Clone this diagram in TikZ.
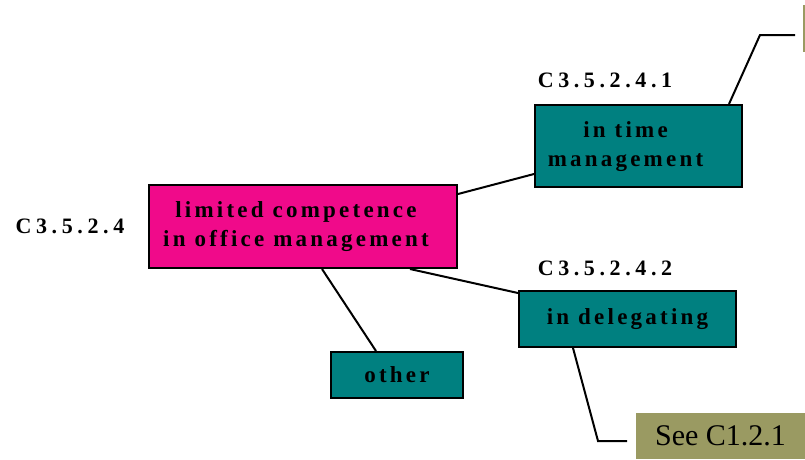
\documentclass[tikz,border=0pt]{standalone}
\usepackage{fontspec}
\setmainfont{Liberation Serif}
\newfontfamily\spaced[LetterSpace=14]{Liberation Serif}
\newfontfamily\codefont[LetterSpace=21]{Liberation Serif}
\definecolor{pinkfill}{HTML}{F00A8A}
\definecolor{tealfill}{HTML}{008080}
\definecolor{olivefill}{HTML}{9A9A62}
\begin{document}
\begin{tikzpicture}[x=1pt,y=-1pt,
  topic/.style={draw=black, line width=2pt, inner sep=0pt, align=center,
    font=\spaced\fontsize{23}{29}\selectfont\bfseries},
  code/.style={inner sep=0pt, font=\codefont\fontsize{22}{25}\selectfont\bfseries},
  ref/.style={fill=olivefill, inner sep=0pt, font=\fontsize{30}{34}\selectfont},
  link/.style={line width=2pt, black}]
\useasboundingbox (0,0) rectangle (805,459);

% boxes
\node[topic, fill=pinkfill, minimum width=308pt, minimum height=83pt] (pink) at (303,226.5)
  {limited competence\hspace*{14pt}\\in office management\hspace*{14pt}};
\node[topic, fill=tealfill, minimum width=207pt, minimum height=82pt] (time) at (638.5,146)
  {\raisebox{-3pt}{\begin{tabular}{@{}c@{}}in time\\[0pt]management\end{tabular}}\hspace*{26pt}};
\node[topic, fill=tealfill, minimum width=217pt, minimum height=56pt] (deleg) at (627.5,319)
  {in delegating};
\node[topic, fill=tealfill, minimum width=132pt, minimum height=46pt] (other) at (397,375)
  {other};
\node[ref, minimum width=169pt, minimum height=46pt] (see) at (720.5,436) {See C1.2.1};
\node[ref, minimum width=30pt, minimum height=47pt, anchor=north west] (top) at (803,5) {};

% codes
\node[code] (c0) at (70,226) {C3.5.2.4};
\node[code] (c1) at (605,80) {C3.5.2.4.1};
\node[code] (c2) at (605,268) {C3.5.2.4.2};

% connectors
\coordinate (k1) at (760,35);
\coordinate (k1e) at (795,35);
\coordinate (k2) at (598,441);
\coordinate (k2e) at (627,441);
\draw[link] ([yshift=-10pt]pink.north east) -- ([yshift=14pt]time.south west);
\draw[link] ([xshift=107pt]pink.south) -- ([yshift=-3pt]deleg.north west);
\draw[link] ([xshift=19pt]pink.south) -- ([xshift=-21pt]other.north);
\draw[link] ([xshift=-14pt]time.north east) -- (k1) -- (k1e);
\draw[link] ([xshift=-54.5pt]deleg.south) -- (k2) -- (k2e);
\end{tikzpicture}
\end{document}
